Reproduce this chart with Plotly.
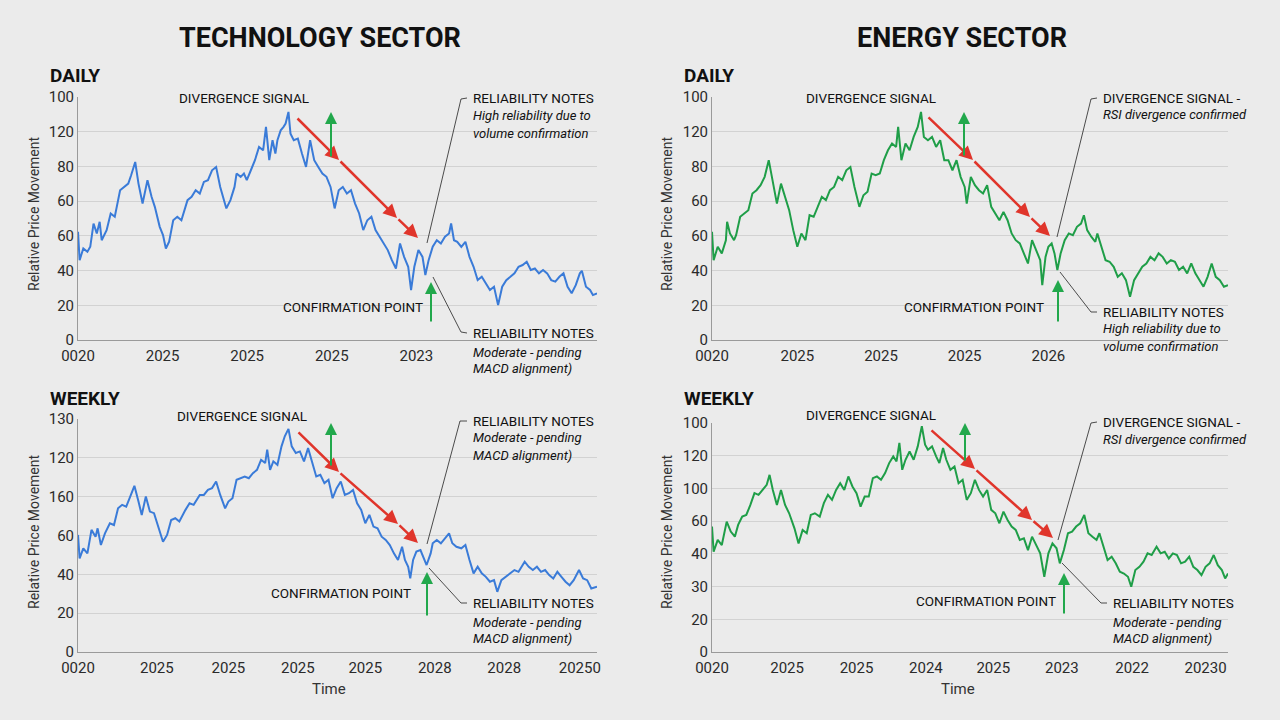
import plotly.graph_objects as go

# ---- data (time in trading days from panel start, values in axis units) ----
TL_DAYS = [0, 4, 13, 23, 30, 38, 46, 53, 58, 70,
           80, 90, 103, 113, 123, 130, 140, 148, 158, 170,
           180, 188, 200, 208, 215, 223, 233, 243, 253, 268,
           278, 288, 298, 308, 318, 328, 338, 348, 363, 373,
           383, 388, 398, 406, 413, 423, 433, 443, 453, 460,
           468, 476, 483, 488, 496, 503, 508, 515, 520, 528,
           538, 548, 558, 568, 578, 588, 598, 608, 618, 628,
           638, 648, 658, 668, 678, 688, 698, 708, 718, 728,
           738, 748, 758, 768, 778, 788, 798, 808, 815, 823,
           833, 843, 850, 858, 868, 878, 888, 898, 908, 913,
           920, 928, 938, 948, 958, 968, 978, 988, 998, 1008,
           1018, 1028, 1038, 1048, 1058, 1068, 1078, 1088, 1098, 1108,
           1118, 1128, 1138, 1148, 1158, 1168, 1178, 1188, 1198, 1208,
           1218, 1228, 1233, 1243, 1253, 1260, 1270]
TL_VALUES = [62.3, 46.0, 52.7, 50.8, 53.7, 67.1, 61.4, 68.1, 57.5, 63.3,
             72.9, 71.0, 86.3, 88.2, 90.1, 94.9, 102.6, 90.1, 78.6, 92.1,
             82.5, 76.7, 65.2, 60.4, 52.7, 56.6, 69.0, 71.0, 69.0, 80.6,
             82.5, 86.3, 84.4, 91.1, 92.1, 97.8, 99.7, 88.2, 75.8, 80.6,
             88.2, 95.9, 94.0, 95.9, 92.1, 97.8, 103.6, 111.2, 109.3, 122.8,
             103.6, 115.1, 107.4, 115.1, 120.8, 122.8, 124.7, 131.4, 118.9, 115.1,
             116.0, 107.4, 99.7, 115.1, 103.6, 99.7, 95.9, 94.0, 88.2, 75.8,
             86.3, 88.2, 84.4, 86.3, 78.6, 72.9, 63.3, 69.0, 71.0, 63.3,
             59.5, 55.6, 51.8, 46.0, 41.2, 55.6, 47.9, 42.2, 28.8, 42.2,
             51.8, 47.9, 37.4, 46.0, 53.7, 57.5, 55.6, 59.5, 61.4, 67.1,
             57.5, 56.6, 53.7, 56.6, 47.9, 42.2, 34.5, 36.4, 32.6, 28.8,
             30.7, 20.1, 30.7, 34.5, 36.4, 38.4, 42.2, 43.2, 45.1, 40.3,
             41.2, 38.4, 40.3, 38.4, 34.5, 33.6, 36.4, 38.4, 30.7, 26.9,
             31.6, 38.4, 39.9, 30.7, 28.8, 25.9, 26.9]

TR_DAYS = [0, 4, 14, 24, 34, 37, 44, 54, 59, 69,
           79, 89, 99, 109, 119, 129, 139, 149, 159, 169,
           179, 189, 199, 209, 219, 229, 239, 249, 259, 269,
           279, 289, 299, 309, 319, 329, 339, 349, 361, 371,
           381, 391, 401, 411, 421, 431, 441, 451, 456, 464,
           474, 484, 494, 504, 512, 519, 529, 539, 549, 559,
           569, 579, 589, 599, 609, 619, 624, 634, 644, 654,
           664, 674, 684, 694, 704, 714, 724, 734, 744, 754,
           764, 774, 784, 794, 804, 809, 817, 824, 832, 839,
           846, 854, 864, 874, 884, 894, 904, 911, 919, 929,
           939, 944, 954, 964, 974, 984, 994, 1004, 1014, 1024,
           1034, 1044, 1054, 1064, 1074, 1084, 1094, 1104, 1114, 1124,
           1134, 1144, 1154, 1164, 1174, 1184, 1194, 1204, 1214, 1224,
           1234, 1244, 1254, 1264]
TR_VALUES = [62.3, 46.0, 53.7, 49.9, 57.5, 68.1, 61.4, 57.5, 60.4, 71.0,
             72.9, 74.8, 84.4, 86.3, 89.2, 94.0, 103.6, 90.1, 78.6, 90.1,
             82.5, 74.8, 63.3, 53.7, 61.4, 57.5, 71.9, 71.0, 76.7, 82.5,
             80.6, 86.3, 88.2, 94.0, 92.1, 97.8, 99.7, 88.2, 76.7, 83.4,
             85.4, 95.9, 94.9, 95.9, 103.6, 109.3, 113.2, 111.2, 122.8, 103.6,
             113.2, 109.3, 117.0, 122.8, 131.4, 117.0, 115.1, 117.0, 111.2, 115.1,
             103.6, 103.6, 97.8, 103.6, 94.0, 88.2, 78.6, 94.0, 89.2, 86.3,
             84.4, 89.2, 76.7, 72.9, 69.0, 73.8, 69.0, 61.4, 57.5, 55.6,
             49.9, 44.1, 57.5, 51.8, 46.0, 31.6, 47.9, 53.7, 55.6, 49.9,
             40.3, 49.9, 57.5, 61.4, 60.4, 65.2, 67.1, 71.9, 63.3, 59.5,
             56.6, 61.4, 53.7, 46.0, 45.1, 42.2, 36.4, 38.4, 34.5, 24.9,
             34.5, 38.4, 42.2, 44.1, 47.9, 46.0, 49.9, 47.9, 44.1, 46.0,
             45.1, 40.3, 42.2, 38.4, 44.1, 38.4, 34.5, 30.7, 36.4, 44.1,
             36.4, 34.5, 30.7, 31.6]

BL_DAYS = [0, 4, 13, 23, 33, 43, 48, 56, 66, 78,
           88, 98, 108, 118, 128, 138, 148, 156, 166, 176,
           186, 198, 208, 218, 228, 238, 248, 263, 273, 283,
           298, 308, 318, 328, 338, 348, 360, 368, 378, 388,
           398, 408, 418, 428, 438, 448, 458, 463, 470, 478,
           488, 498, 506, 515, 523, 533, 543, 553, 563, 573,
           583, 593, 603, 613, 623, 633, 643, 653, 663, 673,
           683, 693, 703, 713, 723, 733, 743, 753, 763, 773,
           783, 793, 800, 808, 813, 820, 828, 838, 843, 853,
           863, 868, 878, 888, 898, 908, 916, 926, 938, 948,
           958, 968, 978, 988, 998, 1008, 1018, 1026, 1036, 1046,
           1056, 1068, 1078, 1093, 1103, 1113, 1123, 1133, 1143, 1153,
           1163, 1173, 1183, 1193, 1203, 1213, 1226, 1236, 1246, 1256,
           1270]
BL_VALUES = [60.3, 48.2, 53.4, 50.8, 62.9, 59.4, 63.7, 55.1, 61.1, 66.3,
             65.4, 74.0, 75.8, 74.9, 80.1, 85.6, 77.5, 70.6, 80.1, 72.3,
             71.5, 62.9, 56.8, 60.3, 68.0, 68.9, 67.2, 73.2, 76.6, 75.8,
             80.9, 80.9, 83.5, 84.4, 87.8, 80.9, 74.0, 77.5, 79.2, 88.7,
             89.5, 90.4, 89.5, 92.1, 93.8, 99.0, 97.3, 104.2, 93.8, 98.2,
             96.4, 105.9, 111.1, 114.9, 105.9, 102.5, 103.3, 98.2, 105.0, 97.3,
             90.4, 91.3, 87.0, 88.7, 79.2, 84.4, 87.8, 80.9, 81.8, 83.5,
             76.6, 73.2, 66.3, 70.6, 64.6, 63.7, 59.4, 57.7, 55.1, 50.8,
             47.4, 54.2, 47.4, 43.9, 37.9, 47.4, 51.7, 52.5, 49.9, 44.8,
             50.8, 56.0, 57.7, 56.0, 58.5, 61.1, 56.0, 54.2, 53.4, 55.1,
             47.4, 40.5, 43.9, 40.5, 38.7, 36.2, 37.0, 31.0, 37.0, 38.7,
             40.5, 42.2, 41.3, 46.5, 43.9, 42.2, 43.9, 41.3, 42.2, 39.6,
             37.9, 41.3, 38.7, 36.2, 34.4, 37.0, 42.2, 37.9, 37.0, 32.7,
             33.6]

BR_DAYS = [0, 4, 14, 24, 36, 46, 56, 64, 74, 84,
           94, 104, 114, 124, 134, 141, 149, 159, 169, 179,
           189, 202, 212, 222, 232, 242, 252, 264, 274, 284,
           294, 304, 314, 324, 334, 344, 354, 364, 374, 384,
           394, 404, 414, 424, 434, 444, 452, 459, 466, 474,
           484, 494, 504, 514, 522, 529, 539, 549, 557, 566,
           574, 584, 594, 604, 614, 624, 634, 644, 654, 664,
           674, 684, 694, 704, 714, 724, 734, 744, 754, 764,
           774, 784, 794, 804, 814, 824, 834, 844, 852, 862,
           872, 882, 892, 902, 912, 922, 932, 942, 949, 959,
           969, 979, 989, 999, 1009, 1019, 1027, 1037, 1047, 1057,
           1067, 1077, 1089, 1099, 1109, 1119, 1129, 1139, 1149, 1159,
           1169, 1179, 1189, 1199, 1209, 1219, 1229, 1239, 1249, 1257,
           1264]
BR_VALUES = [76.7, 61.3, 68.5, 65.4, 79.7, 73.6, 70.5, 77.7, 82.8, 83.8,
             89.9, 97.1, 96.1, 99.1, 102.2, 108.3, 99.1, 89.9, 99.1, 89.9,
             84.8, 75.6, 66.4, 74.6, 72.6, 83.8, 84.8, 82.8, 91.0, 96.1,
             93.0, 99.1, 103.2, 99.1, 107.3, 101.2, 97.1, 88.9, 95.0, 95.0,
             106.3, 107.3, 105.3, 109.4, 115.5, 119.6, 116.5, 127.8, 111.4, 117.5,
             122.6, 117.5, 125.7, 138.0, 126.7, 123.7, 125.7, 119.6, 115.5, 124.7,
             117.5, 111.4, 113.4, 103.2, 105.3, 93.0, 97.1, 105.3, 99.1, 95.0,
             99.1, 86.9, 84.8, 78.7, 85.8, 80.7, 76.7, 74.6, 68.5, 69.5,
             62.3, 70.5, 65.4, 60.3, 46.0, 60.3, 66.4, 63.4, 54.2, 62.3,
             72.6, 73.6, 76.7, 78.7, 83.8, 72.6, 70.5, 68.5, 72.6, 64.4,
             56.2, 58.3, 54.2, 49.1, 48.0, 46.0, 39.9, 50.1, 52.1, 55.2,
             60.3, 59.3, 64.4, 60.3, 61.3, 57.2, 60.3, 59.3, 54.2, 55.2,
             58.3, 52.1, 50.1, 47.0, 52.1, 54.2, 59.3, 53.1, 50.1, 45.0,
             48.0]

# tick labels as printed on the chart
TL_XTICKS = [0, 207, 414, 621, 828]
TL_XLABELS = ["0020", "2025", "2025", "2025", "2023"]
TR_XTICKS = [0, 209, 414, 619, 824]
TR_XLABELS = ["0020", "2025", "2025", "2025", "2026"]
BL_XTICKS = [0, 193, 368, 538, 703, 873, 1043, 1228]
BL_XLABELS = ["0020", "2025", "2025", "2025", "2025", "2028", "2028", "20250"]
BR_XTICKS = [0, 184, 354, 524, 689, 857, 1029, 1209]
BR_XLABELS = ["0020", "2025", "2025", "2024", "2025", "2023", "2022", "20230"]

TOP_YTICKS = [0, 20, 40, 60, 80, 100, 120, 140]
TL_YLABELS = ["0", "20", "40", "60", "60", "80", "120", "100"]
TR_YLABELS = ["0", "20", "40", "60", "60", "80", "120", "100"]
BL_YTICKS = [0, 20, 40, 60, 80, 100, 120]
BL_YLABELS = ["0", "20", "40", "60", "160", "120", "130"]
BR_YTICKS = [0, 20, 40, 60, 80, 100, 120, 140]
BR_YLABELS = ["0", "20", "30", "40", "60", "100", "120", "100"]

# ---- layout helpers (pixel positions on the 1280x720 page) ----
W, H = 1280, 720
BG = "#ebebeb"
BLUE = "#3a7bd8"
GREEN = "#1f9e48"
RED = "#e0352b"
ARROW_GREEN = "#22a84c"
FONT = "Roboto"


def px(x, y):
    return x / W, 1 - y / H


fig = go.Figure()

panels = [
    # suffix, days, values, color, x dom px, y dom px, xticks, xlabels, yticks, ylabels, xmax, ymax
    ("", TL_DAYS, TL_VALUES, BLUE, (78, 597), (97, 340), TL_XTICKS, TL_XLABELS, TOP_YTICKS, TL_YLABELS, 1270, 140),
    ("2", TR_DAYS, TR_VALUES, GREEN, (712, 1228), (97, 340), TR_XTICKS, TR_XLABELS, TOP_YTICKS, TR_YLABELS, 1264, 140),
    ("3", BL_DAYS, BL_VALUES, BLUE, (78, 597), (419, 652), BL_XTICKS, BL_XLABELS, BL_YTICKS, BL_YLABELS, 1270, 120),
    ("4", BR_DAYS, BR_VALUES, GREEN, (712, 1228), (423, 652), BR_XTICKS, BR_XLABELS, BR_YTICKS, BR_YLABELS, 1264, 140),
]

layout_axes = {}
for n, days, vals, col, xd, yd, xt, xl, yt, yl, xmax, ymax in panels:
    fig.add_trace(go.Scatter(x=days, y=vals, mode="lines",
                             line=dict(color=col, width=2),
                             xaxis="x" + n, yaxis="y" + n, showlegend=False,
                             hoverinfo="skip"))
    layout_axes["xaxis" + n] = dict(
        domain=[xd[0] / W, xd[1] / W], anchor="y" + n, range=[0, xmax],
        tickmode="array", tickvals=xt, ticktext=xl, showgrid=False,
        showline=True, linecolor="#9a9a9a", linewidth=1, zeroline=False,
        ticks="", automargin=False, ticklabelstandoff=2,
        tickfont=dict(family=FONT, size=15, color="#2a2a2a"))
    layout_axes["yaxis" + n] = dict(
        domain=[1 - yd[1] / H, 1 - yd[0] / H], anchor="x" + n, range=[0, ymax],
        tickmode="array", tickvals=yt, ticktext=yl, showgrid=True,
        gridcolor="#d2d2d2", gridwidth=1, showline=True, linecolor="#9a9a9a",
        linewidth=1, zeroline=False, ticks="", automargin=False,
        tickfont=dict(family=FONT, size=15, color="#2a2a2a"))

annotations = []
shapes = []


def text(x, y, s, size=13, anchor="center", weight="normal", italic=False, angle=0, color="#111"):
    xx, yy = px(x, y)
    annotations.append(dict(
        x=xx, y=yy, xref="paper", yref="paper", text=s, showarrow=False,
        xanchor=anchor, yanchor="middle", textangle=angle,
        font=dict(family=FONT, size=size, color=color, weight=weight,
                  style="italic" if italic else "normal")))


def arrow(x0, y0, x1, y1, color, width, size=1.0):
    xx, yy = px(x1, y1)
    annotations.append(dict(
        x=xx, y=yy, xref="paper", yref="paper", ax=x0 - x1, ay=y0 - y1,
        axref="pixel", ayref="pixel", showarrow=True, arrowhead=2,
        arrowsize=size, arrowwidth=width, arrowcolor=color, text="",
        standoff=0, startstandoff=0))


def leader(points):
    path = "M " + " L ".join(f"{p[0] / W} {1 - p[1] / H}" for p in points)
    shapes.append(dict(type="path", path=path, xref="paper", yref="paper",
                       line=dict(color="#222", width=0.8)))


# titles
text(320, 38, "TECHNOLOGY SECTOR", size=27, weight="bold")
text(962, 38, "ENERGY SECTOR", size=27, weight="bold")
for x in (48, 682):
    text(x, 76, "DAILY", size=19, weight="bold", anchor="left")
    text(x, 398, "WEEKLY", size=19, weight="bold", anchor="left")
for x in (34, 667):
    text(x, 214, "Relative Price Movement", size=14, angle=-90, color="#333")
    text(x, 532, "Relative Price Movement", size=14, angle=-90, color="#333")
text(329, 689, "Time", size=15, color="#333")
text(958, 689, "Time", size=15, color="#333")

# red divergence arrows with chevrons along the way
red_paths = [
    [(296, 117), (339, 160), (397, 218), (418, 238)],
    [(927, 116), (973, 160), (1030, 217), (1050, 236)],
    [(297, 431), (339, 472), (398, 524), (418, 543)],
    [(930, 429), (975, 469), (1032, 520), (1053, 538)],
]
for pts in red_paths:
    for a, b in zip(pts[:-1], pts[1:]):
        arrow(a[0], a[1], b[0], b[1], RED, 2.5, 1.1)

# green up arrows
for x0, y0, y1 in [(331, 158, 112), (964, 157, 112), (331, 467, 423), (965, 462, 423),
                   (431, 323, 282), (1058, 323, 280), (427, 617, 572), (1064, 615, 573)]:
    arrow(x0, y0, x0, y1, ARROW_GREEN, 2, 1.2)

# labels
for x, y in [(244, 98), (871, 98), (242, 416), (871, 415)]:
    text(x, y, "DIVERGENCE SIGNAL", size=13.5)
for x, y in [(353, 307), (974, 307), (341, 593), (986, 601)]:
    text(x, y, "CONFIRMATION POINT", size=13.5)

# notes
text(471, 98, "RELIABILITY NOTES", anchor="left", size=13.5)
text(471, 116, "High reliability due to", anchor="left", italic=True)
text(471, 133, "volume confirmation", anchor="left", italic=True)
text(471, 333, "RELIABILITY NOTES", anchor="left", size=13.5)
text(471, 352, "Moderate - pending", anchor="left", italic=True)
text(471, 369, "MACD alignment)", anchor="left", italic=True)

text(1101, 98, "DIVERGENCE SIGNAL -", anchor="left", size=13.5)
text(1101, 115, "RSI divergence confirmed", anchor="left", italic=True)
text(1101, 312, "RELIABILITY NOTES", anchor="left", size=13.5)
text(1101, 329, "High reliability due to", anchor="left", italic=True)
text(1101, 346, "volume confirmation", anchor="left", italic=True)

text(471, 421, "RELIABILITY NOTES", anchor="left", size=13.5)
text(471, 438, "Moderate - pending", anchor="left", italic=True)
text(471, 455, "MACD alignment)", anchor="left", italic=True)
text(471, 603, "RELIABILITY NOTES", anchor="left", size=13.5)
text(471, 622, "Moderate - pending", anchor="left", italic=True)
text(471, 638, "MACD alignment)", anchor="left", italic=True)

text(1101, 422, "DIVERGENCE SIGNAL -", anchor="left", size=13.5)
text(1101, 439, "RSI divergence confirmed", anchor="left", italic=True)
text(1111, 603, "RELIABILITY NOTES", anchor="left", size=13.5)
text(1111, 622, "Moderate - pending", anchor="left", italic=True)
text(1111, 638, "MACD alignment)", anchor="left", italic=True)

leader([(427, 243), (461, 99), (467, 98)])
leader([(433, 277), (461, 332), (467, 333)])
leader([(1057, 237), (1091, 99), (1097, 98)])
leader([(1060, 272), (1091, 312), (1097, 312)])
leader([(427, 544), (460, 421), (467, 421)])
leader([(429, 568), (461, 603), (467, 603)])
leader([(1058, 540), (1091, 423), (1097, 422)])
leader([(1062, 563), (1101, 603), (1107, 603)])

fig.update_layout(
    width=W, height=H, margin=dict(l=0, r=0, t=0, b=0, autoexpand=False),
    paper_bgcolor=BG, plot_bgcolor=BG,
    annotations=annotations, shapes=shapes,
    font=dict(family=FONT), **layout_axes)

fig.write_html("out.html", config={"displayModeBar": False},
               post_script="document.body.style.margin='0';")
